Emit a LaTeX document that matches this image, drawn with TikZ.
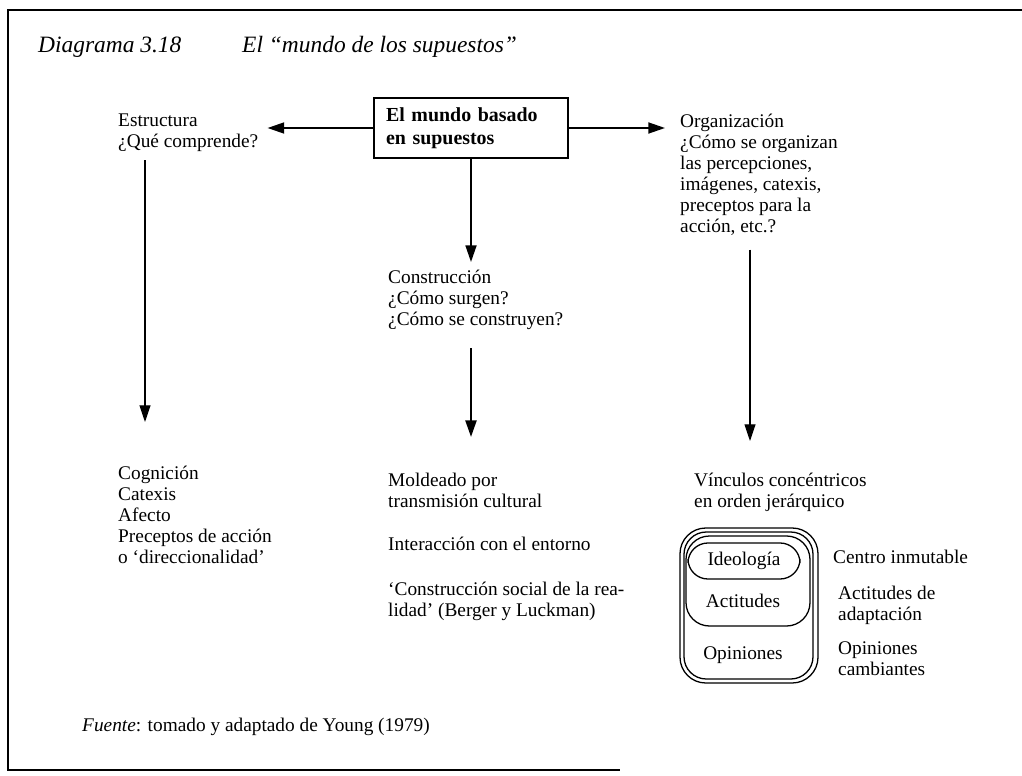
\documentclass[tikz,border=0pt]{standalone}
\usepackage{fontspec}
\setmainfont{Liberation Serif}
\usetikzlibrary{arrows.meta,positioning,calc}
\tikzset{txt/.style={anchor=north west,align=left,inner sep=0pt,font=\fontsize{16.5}{17.9}\selectfont}, mainbox/.style={draw,line width=1.6pt,align=left,text width=51mm,minimum width=58mm,minimum height=18mm,inner xsep=3.5mm,inner ysep=2mm,font=\fontsize{17}{19.5}\selectfont\bfseries}, flow/.style={-{Triangle[length=5mm,width=3.3mm]},line width=1.5pt}, thinflow/.style={flow,line width=0.9pt}, ring/.style={draw,line width=1.1pt}}

\begin{document}
\begin{tikzpicture}[x=0.3mm,y=-0.3mm]
\useasboundingbox (0,0) rectangle (1022,776);
\draw[line width=1pt] (1022,10) -- (8,10) -- (8,770) -- (620,770);
% title
\node[anchor=base west,inner sep=0pt,font=\fontsize{20}{22}\selectfont\itshape] (t1) at (38,53) {Diagrama 3.18};
\node[anchor=base west,inner sep=0pt,font=\fontsize{20}{22}\selectfont\itshape] (t2) at (242,53) {El “mundo de los supuestos”};
% main box and the three questions
\node[mainbox] (box) at (471,128) {El mundo basado\\en supuestos};
\node[txt] (estr) at (118,114) {Estructura\\¿Qué comprende?};
\node[txt] (org) at (680,114) {Organización\\¿Cómo se organizan\\las percepciones,\\imágenes, catexis,\\preceptos para la\\acción, etc.?};
\node[txt] (cons) at (388,270) {Construcción\\¿Cómo surgen?\\¿Cómo se construyen?};
\draw[flow] (box.west) -- ($(box.west -| estr.east)+(9,0)$);\draw[flow] (box.east) -- ($(box.east -| org.west)+(-15,0)$);
\draw[flow] (box.south) -- ([yshift=2.4mm]box.south |- cons.north);
% answers
\node[txt] (cog) at (118,466) {Cognición\\Catexis\\Afecto\\Preceptos de acción\\o ‘direccionalidad’};
\node[txt] (mold) at (388,473) {Moldeado por\\transmisión cultural};
\node[txt] (inter) at (388,537) {Interacción con el entorno};
\node[txt] (social) at (388,582) {‘Construcción social de la rea-\\lidad’ (Berger y Luckman)};
\node[txt] (vinc) at (694,473) {Vínculos concéntricos\\en orden jerárquico};
\draw[thinflow] ($(estr.south west)+(27,8)$) -- ($(estr.south west |- cog.north)+(27,-44)$);
\draw[flow,line width=2pt] ($(box.south |- cons.south)+(0,18)$) -- ($(box.south |- mold.north)+(0,-36)$);
\draw[thinflow] ($(org.south west)+(70,14)$) -- ($(org.south west |- vinc.north)+(70,-32)$);
% concentric rings
\draw[ring,rounded corners=22] (680,528) rectangle (818,683);
\draw[ring,rounded corners=19] (684,532) rectangle (813,679);
\draw[ring,rounded corners=20] (686,536) rectangle (810,626);
\draw[ring,rounded corners=17] (688,543) rectangle (800,579);
\node[inner sep=0pt,font=\fontsize{16.5}{17.9}\selectfont] (ideo) at (744,561) {Ideología};
\node[inner sep=0pt,font=\fontsize{16.5}{17.9}\selectfont] (acti) at (743,601) {Actitudes};
\node[inner sep=0pt,font=\fontsize{16.5}{17.9}\selectfont] (opin) at (743,655) {Opiniones};
\node[txt] (centro) at (833,550) {Centro inmutable};
\node[txt] (adapt) at (838,586) {Actitudes de\\adaptación};
\node[txt] (camb) at (838,641) {Opiniones\\cambiantes};
% source
\node[txt] (fuente) at (82,718) {\textit{Fuente}: tomado y adaptado de Young (1979)};
\end{tikzpicture}
\end{document}
